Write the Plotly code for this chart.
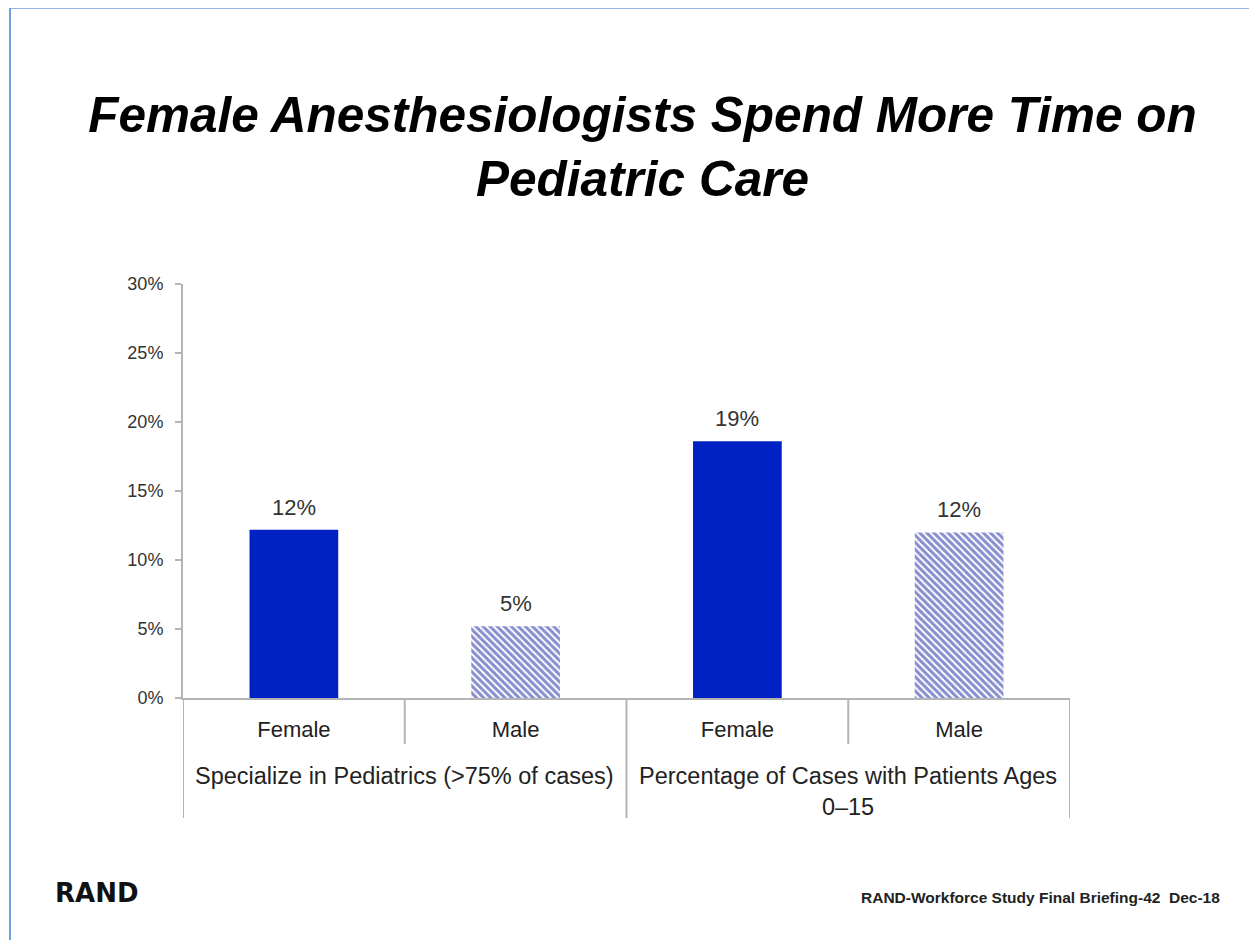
import plotly.graph_objects as go

groups = ["Specialize in Pediatrics (>75% of cases)",
          "Percentage of Cases with Patients Ages<br>0–15"]
genders = ["Female", "Male", "Female", "Male"]
values = [12.2, 5.2, 18.6, 12.0]
patterns = ["", "\\", "", "\\"]

blue = "#0022C4"
grey = "#B4B4B4"
font = "Arial, Liberation Sans, sans-serif"

fig = go.Figure()
fig.add_trace(go.Bar(
    x=list(range(len(values))),
    y=values,
    width=0.4,
    marker=dict(
        color=blue,
        line=dict(width=0),
        pattern=dict(shape=patterns, fgcolor="#0E1E9E", bgcolor="white",
                     size=5, solidity=0.6),
    ),
    showlegend=False,
))

# value labels above the bars
for i, v in enumerate(values):
    fig.add_annotation(x=i, y=v, xref="x", yref="y", text=f"{v:.0f}%",
                       showarrow=False, yanchor="bottom", yshift=8,
                       font=dict(size=22, color="#333333", family=font))

# inner / outer category dividers below the axis
for i in range(len(groups)):
    fig.add_shape(type="line", xref="x", yref="paper", x0=2 * i + 0.5, x1=2 * i + 0.5,
                  y0=0, y1=-0.111, line=dict(color=grey, width=2))
for xb in [-0.5, 1.5, 3.5]:
    fig.add_shape(type="line", xref="x", yref="paper", x0=xb, x1=xb,
                  y0=0, y1=-0.29, line=dict(color=grey, width=2))

for i, g in enumerate(groups):
    fig.add_annotation(x=2 * i + 0.5, y=-0.188, xref="x", yref="paper", text=g,
                       showarrow=False, yanchor="top", yshift=15,
                       font=dict(size=23.5, color="#222222", family=font))

# slide border (top and left)
fig.add_shape(type="line", xref="paper", yref="paper", x0=-0.195, x1=1.25,
              y0=1.667, y1=1.667, line=dict(color="#6F9FDA", width=2))
fig.add_shape(type="line", xref="paper", yref="paper", x0=-0.195, x1=-0.195,
              y0=1.667, y1=-0.65, line=dict(color="#6F9FDA", width=2))

fig.add_annotation(x=-0.147, y=-0.472, xref="paper", yref="paper", text="<b>RAND</b>",
                   showarrow=False, xanchor="left", yanchor="middle",
                   font=dict(size=26, color="#111111", family="DejaVu Sans, sans-serif"))
fig.add_annotation(x=(1222 - 183) / 887, y=-0.482, xref="paper", yref="paper",
                   text="<b>RAND-Workforce Study Final Briefing-42  Dec-18</b>",
                   showarrow=False, xanchor="right", yanchor="middle",
                   font=dict(size=15.5, color="#222222", family=font))

fig.update_layout(
    title=dict(
        text="<b><i>Female Anesthesiologists Spend More Time on<br>Pediatric Care</i></b>",
        x=0.5 + 16 / 887, xref="paper", y=1 - 124 / 932, yref="container", yanchor="middle",
        font=dict(size=49.5, color="black", family=font),
    ),
    width=1249, height=932,
    margin=dict(l=175, r=187, t=276, b=242),
    paper_bgcolor="white", plot_bgcolor="white",
)
fig.update_xaxes(
    range=[-0.5, 3.5], tickvals=list(range(len(genders))), ticktext=genders,
    showline=True, linecolor=grey, linewidth=2, showgrid=False, zeroline=False,
    ticks="", ticklabelstandoff=11,
    tickfont=dict(size=22, color="#222222", family=font),
)
fig.update_yaxes(
    range=[0, 30], dtick=5, ticksuffix="%",
    showline=True, linecolor=grey, linewidth=2, showgrid=False, zeroline=False,
    ticks="outside", ticklen=6, tickcolor=grey, tickwidth=2, ticklabelstandoff=8,
    tickfont=dict(size=18, color="#333333", family=font),
)

fig.write_html("out.html")
